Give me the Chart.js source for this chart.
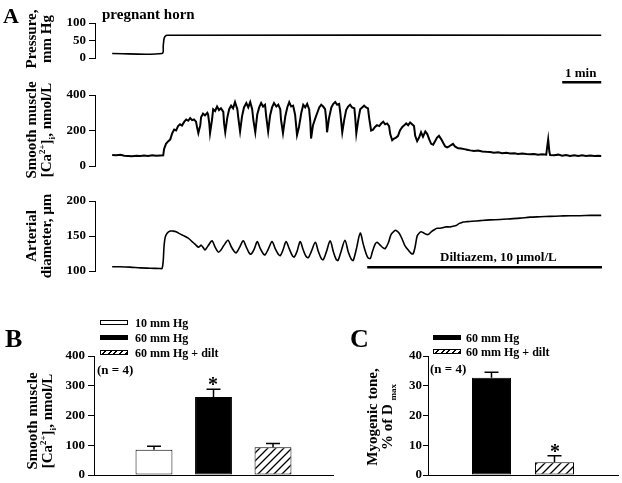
<!DOCTYPE html>
<html>
<head>
<meta charset="utf-8">
<title>pregnant horn</title>
<script src="https://cdn.jsdelivr.net/npm/chart.js@4.4.1/dist/chart.umd.min.js"></script>
<style>
  html, body { margin: 0; padding: 0; background: #fff; }
  #fig { position: relative; width: 622px; height: 483px; overflow: hidden;
         font-family: 'Liberation Serif', 'Times New Roman', serif; font-weight: bold; color: #000; }
  #fig canvas { position: absolute; }
  .t { position: absolute; line-height: 1; white-space: nowrap; font-size: 13px; }
  .yt { position: absolute; font-size: 15px; line-height: 15px; text-align: center; white-space: nowrap;
        transform: translate(-50%, -50%) rotate(-90deg); }
  .yt sup, .yt sub { font-size: 9px; line-height: 0; }
  .box { position: absolute; width: 28px; height: 5px; box-sizing: border-box; border: 1px solid #000; }
  .white { background: #fff; }
  .black { background: #000; }
  .hatch { background: repeating-linear-gradient(135deg, #fff 0 2.5px, #000 2.5px 4px); }
</style>
</head>
<body>
<div id="fig">
  <canvas id="pressure" width="622" height="95" style="left:0;top:0"></canvas>
  <canvas id="calcium" width="622" height="100" style="left:0;top:80px"></canvas>
  <canvas id="diameter" width="622" height="95" style="left:0;top:185px"></canvas>
  <canvas id="barB" width="340" height="183" style="left:0;top:300px"></canvas>
  <canvas id="barC" width="282" height="183" style="left:340px;top:300px"></canvas>

  <div class="t" style="left:3px;top:5px;font-size:22px">A</div>
  <div class="t" style="left:102px;top:7px;font-size:15px">pregnant horn</div>
  <div class="t" style="left:565px;top:66px">1 min</div>
  <div class="t" style="left:440px;top:250px">Diltiazem, 10 μmol/L</div>

  <div class="yt" style="left:39px;top:39px">Pressure,<br>mm Hg</div>
  <div class="yt" style="left:39px;top:130px">Smooth muscle<br>[Ca<sup>2+</sup>]<sub>i</sub>, nmol/L</div>
  <div class="yt" style="left:39px;top:236px">Arterial<br>diameter, µm</div>

  <div class="t" style="left:5px;top:326px;font-size:26px">B</div>
  <div class="yt" style="left:40px;top:421px">Smooth muscle<br>[Ca<sup>2+</sup>]<sub>i</sub>, nmol/L</div>
  <div class="box white" style="left:100px;top:320px"></div>
  <div class="box black" style="left:100px;top:335px"></div>
  <div class="box hatch" style="left:100px;top:350px"></div>
  <div class="t" style="left:135px;top:317px;font-size:12px">10 mm Hg</div>
  <div class="t" style="left:135px;top:332px;font-size:12px">60 mm Hg</div>
  <div class="t" style="left:135px;top:347px;font-size:12px">60 mm Hg + dilt</div>
  <div class="t" style="left:97px;top:363px">(n = 4)</div>
  <div class="t" style="left:213px;top:374px;font-size:20px;transform:translateX(-50%)">*</div>

  <div class="t" style="left:350px;top:326px;font-size:26px">C</div>
  <div class="yt" style="left:380px;top:417px">Myogenic tone,<br>% of D <sub>max</sub></div>
  <div class="box black" style="left:433px;top:335px"></div>
  <div class="box hatch" style="left:433px;top:349px"></div>
  <div class="t" style="left:466px;top:332px;font-size:12px">60 mm Hg</div>
  <div class="t" style="left:466px;top:346px;font-size:12px">60 mm Hg + dilt</div>
  <div class="t" style="left:430px;top:362px">(n = 4)</div>
  <div class="t" style="left:555px;top:441px;font-size:20px;transform:translateX(-50%)">*</div>
</div>

<script>
// Panel A traces (time in min, trace starts at 0) + panels B/C bar charts

const SERIF = "'Liberation Serif', 'Times New Roman', serif";
Chart.defaults.font.family = SERIF;
Chart.defaults.font.weight = 'bold';
Chart.defaults.font.size = 13;
Chart.defaults.color = '#000';

// time axis range, minutes
const timeMin = -0.44;
const timeMax = 12.56;

// [time, mm Hg]
const pressureTrace = [
  [0, 13], [1.28, 13], [1.31, 35], [1.33, 55], [1.36, 62], [1.41, 65], [12.54, 65]
];

// [time, nmol/L]
const caTrace = [
  [0.00,62],[0.10,60],[0.21,63],[0.31,58],[0.41,57],[0.51,55],[0.62,58],[0.72,56],[0.82,59],[0.92,57],
  [1.03,60],[1.13,58],[1.23,59],[1.31,60],[1.33,95],[1.38,125],[1.44,140],[1.49,150],[1.54,185],[1.59,205],
  [1.64,200],[1.69,225],[1.74,235],[1.79,228],[1.85,250],[1.90,262],[1.95,255],[2.00,270],[2.05,258],[2.10,262],
  [2.15,250],[2.18,215],[2.21,185],[2.26,230],[2.28,275],[2.33,295],[2.38,285],[2.44,300],[2.46,290],[2.49,240],
  [2.51,185],[2.56,260],[2.59,320],[2.64,310],[2.69,335],[2.74,315],[2.79,325],[2.85,305],[2.87,240],[2.90,190],
  [2.95,270],[3.00,320],[3.05,340],[3.10,325],[3.15,360],[3.21,320],[3.23,280],[3.28,195],[3.33,280],[3.38,330],
  [3.44,355],[3.49,330],[3.54,360],[3.59,320],[3.62,260],[3.67,190],[3.72,290],[3.77,330],[3.82,355],[3.87,335],
  [3.92,345],[3.95,280],[4.00,195],[4.05,285],[4.10,330],[4.15,355],[4.21,335],[4.26,345],[4.31,320],[4.33,260],
  [4.38,185],[4.44,280],[4.49,330],[4.54,360],[4.59,335],[4.64,340],[4.69,290],[4.74,175],[4.79,220],[4.85,300],
  [4.90,345],[4.95,330],[5.00,350],[5.05,320],[5.08,250],[5.10,155],[5.15,230],[5.21,270],[5.26,300],[5.31,330],
  [5.36,345],[5.41,335],[5.46,320],[5.49,260],[5.51,190],[5.56,270],[5.62,330],[5.67,350],[5.72,360],[5.77,345],
  [5.82,350],[5.85,300],[5.90,190],[5.95,260],[6.00,315],[6.05,335],[6.10,345],[6.15,330],[6.21,325],[6.23,280],
  [6.26,183],[6.31,260],[6.36,320],[6.41,330],[6.46,340],[6.51,330],[6.56,325],[6.59,270],[6.64,200],[6.69,205],
  [6.74,220],[6.79,230],[6.85,225],[6.90,240],[6.95,250],[7.00,235],[7.05,240],[7.10,225],[7.13,180],[7.18,145],
  [7.23,155],[7.28,160],[7.33,170],[7.38,200],[7.44,220],[7.49,230],[7.54,240],[7.59,230],[7.64,245],[7.69,235],
  [7.74,225],[7.77,170],[7.82,140],[7.87,160],[7.92,190],[7.97,165],[8.03,195],[8.08,180],[8.13,150],[8.18,125],
  [8.23,120],[8.28,140],[8.33,160],[8.38,170],[8.44,150],[8.49,130],[8.54,110],[8.59,105],[8.64,110],[8.69,118],
  [8.74,125],[8.79,110],[8.87,100],[8.95,98],[9.03,95],[9.10,92],[9.18,88],[9.28,85],[9.38,87],[9.49,82],
  [9.59,80],[9.69,79],[9.79,75],[9.90,77],[10.00,72],[10.10,74],[10.21,70],[10.31,72],[10.41,68],[10.51,70],
  [10.62,67],[10.72,66],[10.82,68],[10.92,64],[11.03,66],[11.13,64],[11.15,100],[11.18,150],[11.21,80],[11.23,62],
  [11.33,60],[11.44,64],[11.54,58],[11.64,62],[11.74,57],[11.85,60],[11.95,56],[12.05,60],[12.15,57],[12.26,59],
  [12.36,56],[12.46,58],[12.54,57]
];

// [time, µm]
const diameterTrace = [
  [0.00,106],[0.21,106],[0.46,105.5],[0.72,104.5],[0.97,104],[1.23,103.5],[1.28,103.5],[1.31,115],[1.33,135],[1.36,148],
  [1.41,154],[1.49,157],[1.56,157],[1.64,156],[1.74,153],[1.85,150],[1.95,147],[2.05,142],[2.13,138],[2.21,134],
  [2.26,136],[2.28,137],[2.33,134],[2.38,130],[2.46,136],[2.56,143],[2.64,134],[2.72,127],[2.79,130],[2.87,137],
  [2.97,144],[3.05,135],[3.13,128],[3.18,126],[3.26,133],[3.36,143],[3.44,134],[3.51,126],[3.56,124],[3.64,131],
  [3.72,142],[3.79,133],[3.87,125],[3.92,123],[4.00,131],[4.10,142],[4.18,132],[4.26,124],[4.31,122],[4.38,130],
  [4.46,142],[4.54,132],[4.62,122],[4.67,120],[4.74,128],[4.82,142],[4.90,130],[4.97,121],[5.03,119],[5.10,127],
  [5.21,141],[5.28,129],[5.36,118],[5.41,116],[5.49,127],[5.59,143],[5.67,128],[5.74,117],[5.79,115],[5.87,128],
  [5.97,144],[6.05,128],[6.13,117],[6.18,115],[6.26,131],[6.36,154],[6.44,138],[6.51,125],[6.56,119],[6.62,118],
  [6.67,127],[6.74,138],[6.79,141],[6.87,137],[6.95,133],[7.00,132],[7.08,140],[7.15,152],[7.23,157],[7.28,158],
  [7.36,154],[7.44,145],[7.51,136],[7.62,128],[7.67,125],[7.72,125],[7.77,135],[7.82,150],[7.87,154],[7.92,156],
  [7.97,155],[8.03,153],[8.10,152],[8.18,156],[8.26,159],[8.33,161],[8.41,161],[8.49,162],[8.56,163],[8.67,163],
  [8.74,164],[8.82,165],[8.90,168],[8.95,169],[9.00,170],[9.10,170.5],[9.23,171],[9.44,172],[9.69,173],[9.95,173.5],
  [10.21,174.5],[10.46,175.5],[10.72,177],[10.97,177.5],[11.23,178],[11.49,178.5],[11.74,179],[12.00,179],[12.26,179.5],[12.54,179.5]
];

// "1 min" scale bar under the pressure trace, drug bar under the diameter trace
const scaleBarTime = [11.54, 12.54];
const scaleBarLevel = -69;
const diltTime = [6.54, 12.56];
const diltLevel = 105.5;

// panel B
const caGroups = ['10 mm Hg', '60 mm Hg', '60 mm Hg + dilt'];
const caMeans = [85, 262, 93];
const caErrors = [12, 26, 13];

// panel C
const toneGroups = ['60 mm Hg', '60 mm Hg + dilt'];
const toneMeans = [32.7, 4.3];
const toneErrors = [1.8, 2.2];

// helpers
const xy = arr => arr.map(p => ({ x: p[0], y: p[1] }));
const traceSet = (pts, w, tension) => ({
  data: xy(pts), borderColor: '#000', borderWidth: w, pointRadius: 0, tension, fill: false, clip: false
});
const barSet = (times, level) => ({
  data: times.map(t => ({ x: t, y: level })), borderColor: '#000', borderWidth: 2.5, pointRadius: 0, clip: false
});

function yAxis(min, max, step, width, tickLen, pad) {
  return {
    type: 'linear', position: 'left', min, max,
    ticks: { stepSize: step, padding: pad, autoSkip: false },
    grid: { drawOnChartArea: false, drawTicks: true, tickLength: tickLen, color: '#000', lineWidth: 1 },
    border: { display: true, color: '#000', width: 1 },
    afterFit: s => { s.width = width; s.paddingTop = 0; s.paddingBottom = 0; }
  };
}

function traceChart(id, datasets, y, pad) {
  return new Chart(document.getElementById(id), {
    type: 'line',
    data: { datasets },
    options: {
      responsive: false, animation: false, events: [],
      layout: { padding: pad },
      plugins: { legend: { display: false }, tooltip: { enabled: false } },
      scales: {
        x: { type: 'linear', min: timeMin, max: timeMax, display: false },
        y
      }
    }
  });
}

traceChart('pressure',
  [traceSet(pressureTrace, 1.6, 0.3), barSet(scaleBarTime, scaleBarLevel)],
  yAxis(0, 100, 50, 95, 6, 3),
  { top: 23, bottom: 37, left: 0, right: 20 });

traceChart('calcium',
  [traceSet(caTrace, 2, 0)],
  yAxis(0, 400, 200, 95, 6, 3),
  { top: 15, bottom: 14, left: 0, right: 20 });

traceChart('diameter',
  [traceSet(diameterTrace, 1.6, 0.3), barSet(diltTime, diltLevel)],
  yAxis(100, 200, 50, 95, 6, 3),
  { top: 16, bottom: 9, left: 0, right: 20 });

// upper error bars with caps
const errorBars = {
  id: 'errorBars',
  afterDatasetsDraw(chart) {
    const ctx = chart.ctx, y = chart.scales.y;
    chart.data.datasets.forEach((ds, i) => {
      chart.getDatasetMeta(i).data.forEach((el, j) => {
        const top = y.getPixelForValue(ds.data[j] + ds.errors[j]);
        ctx.save();
        ctx.strokeStyle = '#000';
        ctx.lineWidth = 1.5;
        ctx.beginPath();
        ctx.moveTo(el.x, el.y);
        ctx.lineTo(el.x, top);
        ctx.moveTo(el.x - 7, top);
        ctx.lineTo(el.x + 7, top);
        ctx.stroke();
        ctx.restore();
      });
    });
  }
};

function hatchPattern(ctx) {
  const c = document.createElement('canvas');
  c.width = 8; c.height = 8;
  const g = c.getContext('2d');
  g.fillStyle = '#fff';
  g.fillRect(0, 0, 8, 8);
  g.strokeStyle = '#000';
  g.lineWidth = 1.3;
  g.beginPath();
  g.moveTo(0, 8); g.lineTo(8, 0);
  g.moveTo(-1, 1); g.lineTo(1, -1);
  g.moveTo(7, 9); g.lineTo(9, 7);
  g.stroke();
  return ctx.createPattern(c, 'repeat');
}

function barChart(id, groups, means, errors, y, pad, cp, bp) {
  const canvas = document.getElementById(id);
  const fills = {
    '10 mm Hg': '#fff',
    '60 mm Hg': '#000',
    '60 mm Hg + dilt': hatchPattern(canvas.getContext('2d'))
  };
  const datasets = groups.map((g, i) => ({
    label: g,
    data: [means[i]],
    errors: [errors[i]],
    backgroundColor: fills[g],
    borderColor: '#000',
    borderWidth: 1,
    borderSkipped: false,
    categoryPercentage: cp,
    barPercentage: bp
  }));
  return new Chart(canvas, {
    type: 'bar',
    data: { labels: [''], datasets },
    options: {
      responsive: false, animation: false, events: [],
      layout: { padding: pad },
      plugins: { legend: { display: false }, tooltip: { enabled: false } },
      scales: {
        x: {
          type: 'category',
          grid: { display: false },
          ticks: { display: false },
          border: { display: true, color: '#000', width: 1 },
          afterFit: s => { s.height = 0; }
        },
        y
      }
    },
    plugins: [errorBars]
  });
}

barChart('barB', caGroups, caMeans, caErrors,
  yAxis(0, 400, 100, 94, 6, 3),
  { top: 56, bottom: 8, left: 0, right: 7 }, 0.747, 0.62);

barChart('barC', toneGroups, toneMeans, toneErrors,
  yAxis(0, 40, 10, 88, 5, 1),
  { top: 56, bottom: 8, left: 0, right: 4 }, 0.663, 0.62);
</script>
</body>
</html>
